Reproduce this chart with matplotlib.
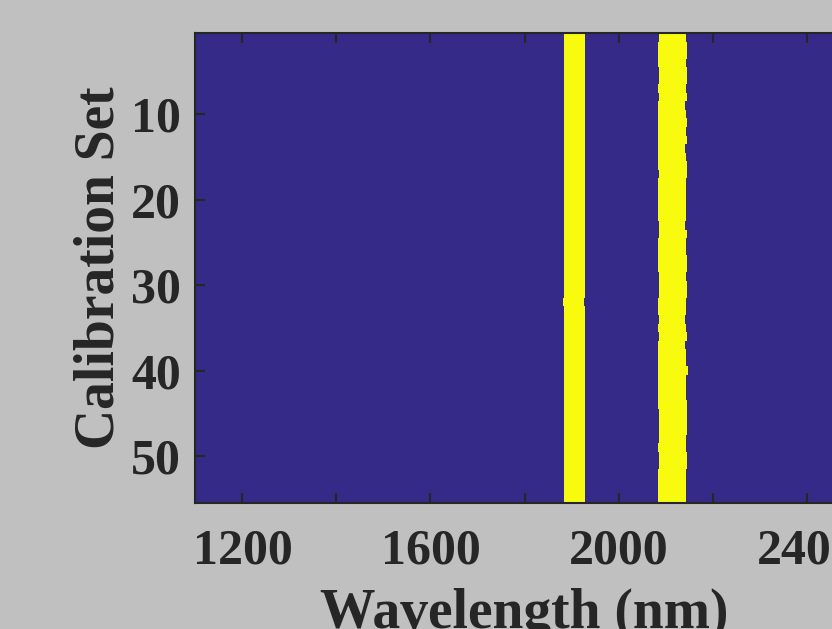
import numpy as np
import matplotlib
matplotlib.use('Agg')
import matplotlib.pyplot as plt
from matplotlib.colors import ListedColormap

# wavelength grid (nm) and calibration samples
wavelength = np.arange(1100, 2502, 2)
n_samples = 55

# selected band edges per calibration sample (nm), rows 1..55
band1_left = [1884, 1886, 1886, 1886, 1886, 1886, 1886, 1886, 1886, 1886,
              1886, 1886, 1886, 1884, 1886, 1886, 1886, 1886, 1884, 1886,
              1886, 1886, 1884, 1886, 1886, 1886, 1886, 1886, 1886, 1886,
              1886, 1882, 1884, 1884, 1884, 1884, 1886, 1884, 1884, 1886,
              1886, 1886, 1886, 1886, 1886, 1886, 1886, 1884, 1886, 1884,
              1886, 1886, 1886, 1886, 1886]
band1_right = [1928, 1928, 1928, 1928, 1928, 1928, 1928, 1928, 1928, 1928,
               1928, 1928, 1928, 1928, 1928, 1928, 1928, 1928, 1928, 1928,
               1928, 1928, 1928, 1928, 1928, 1928, 1928, 1928, 1928, 1928,
               1928, 1926, 1928, 1928, 1928, 1928, 1928, 1928, 1928, 1928,
               1928, 1928, 1928, 1928, 1928, 1928, 1928, 1928, 1928, 1928,
               1928, 1928, 1928, 1928, 1928]
band2_left = [2088, 2086, 2086, 2086, 2088, 2088, 2086, 2088, 2084, 2086,
              2086, 2086, 2086, 2084, 2086, 2086, 2088, 2086, 2086, 2086,
              2086, 2086, 2088, 2088, 2086, 2086, 2086, 2086, 2088, 2088,
              2088, 2086, 2086, 2088, 2086, 2088, 2084, 2084, 2086, 2086,
              2086, 2086, 2086, 2086, 2088, 2088, 2088, 2088, 2086, 2088,
              2088, 2086, 2086, 2086, 2086]
band2_right = [2142, 2144, 2144, 2142, 2144, 2144, 2142, 2144, 2140, 2142,
               2144, 2142, 2144, 2140, 2142, 2144, 2144, 2142, 2142, 2142,
               2142, 2142, 2140, 2144, 2142, 2142, 2144, 2144, 2142, 2144,
               2144, 2142, 2142, 2140, 2142, 2144, 2140, 2142, 2142, 2146,
               2142, 2142, 2142, 2144, 2144, 2144, 2144, 2142, 2142, 2144,
               2144, 2142, 2142, 2142, 2142]

xticks = [1200, 1600, 2000, 2400]
xticks_minor = [1400, 1800, 2200]
yticks = [10, 20, 30, 40, 50]

# binary selection matrix
sel = np.zeros((n_samples, len(wavelength)))
for i in range(n_samples):
    sel[i, (wavelength >= band1_left[i]) & (wavelength <= band1_right[i])] = 1
    sel[i, (wavelength >= band2_left[i]) & (wavelength <= band2_right[i])] = 1

plt.rcParams['font.family'] = ['Liberation Serif', 'DejaVu Serif']
plt.rcParams['font.weight'] = 'bold'

bg = '#c0c0c0'
txt = '#262626'
cmap = ListedColormap(['#352a87', '#f9fb0e'])

fig = plt.figure(figsize=(8.32, 6.29), dpi=100, facecolor=bg)
ax = fig.add_axes([195 / 832, 126 / 629, 659 / 832, 470 / 629])
ax.imshow(sel, cmap=cmap, aspect='auto', interpolation='nearest',
          extent=[wavelength[0] - 1, wavelength[-1] + 1, n_samples + 0.5, 0.5])
ax.set_xlim(1099, 2501)
ax.set_ylim(n_samples + 0.5, 0.5)

ax.set_xticks(xticks + xticks_minor)
ax.set_xticklabels([str(t) for t in xticks] + [''] * len(xticks_minor))
ax.set_yticks(yticks)
ax.tick_params(direction='in', length=7, width=1.5, colors=txt,
               labelsize=36, top=True, right=True)
ax.tick_params(axis='x', pad=18)
ax.tick_params(axis='y', pad=10)
for s in ax.spines.values():
    s.set_linewidth(1.5)
    s.set_color(txt)

ax.set_xlabel('Wavelength (nm)', fontsize=40, fontweight='bold', color=txt, labelpad=10)
ax.set_ylabel('Calibration Set', fontsize=40, fontweight='bold', color=txt, labelpad=4)

fig.savefig('out.png', dpi=100, facecolor=bg)
